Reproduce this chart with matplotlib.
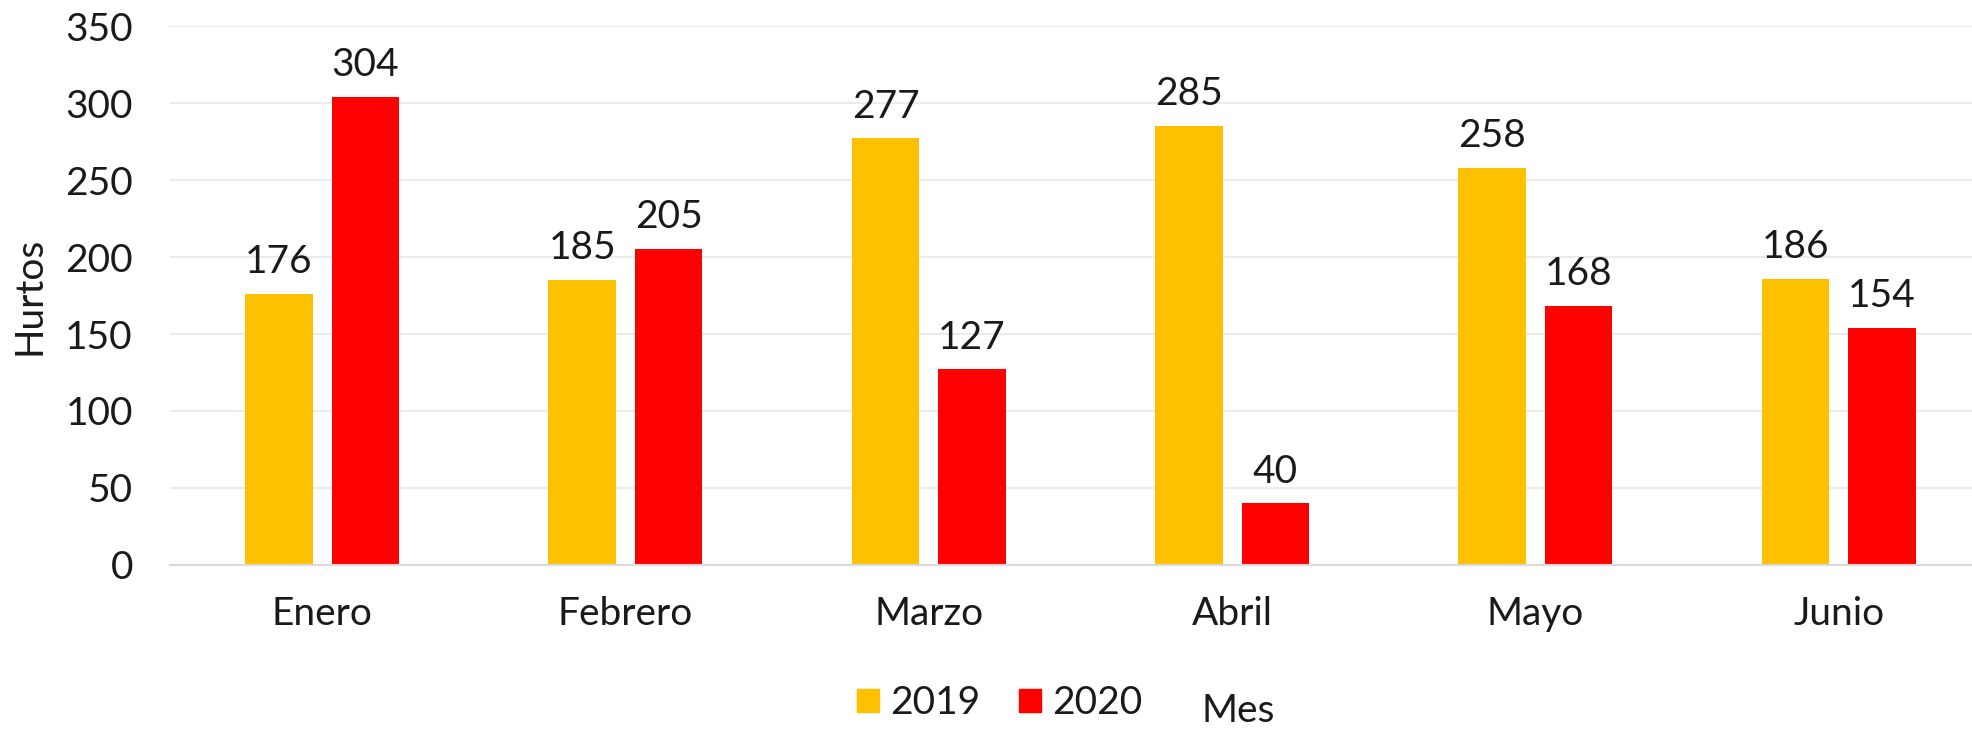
import numpy as np
import matplotlib.pyplot as plt
from matplotlib.patches import Patch

plt.rcParams['font.family'] = ['Lato', 'DejaVu Sans']

meses = ['Enero', 'Febrero', 'Marzo', 'Abril', 'Mayo', 'Junio']
hurtos_2019 = [176, 185, 277, 285, 258, 186]
hurtos_2020 = [304, 205, 127, 40, 168, 154]

c2019 = '#FFC000'
c2020 = '#FF0000'
txt = '#1a1a1a'
fs = 28

fig = plt.figure(figsize=(19.72, 7.31), dpi=100)
ax = fig.add_axes([0.0864, 0.2271, 0.9229, 0.7373])

x = np.arange(len(meses))
w = 0.2226
off = 0.1426
b1 = ax.bar(x - off, hurtos_2019, w, color=c2019, label='2019')
b2 = ax.bar(x + off, hurtos_2020, w, color=c2020, label='2020')
ax.bar_label(b1, padding=10, fontsize=fs, color=txt)
ax.bar_label(b2, padding=10, fontsize=fs, color=txt)

ax.set_xlim(-0.5, len(meses) - 0.5)
ax.set_ylim(0, 350)
ax.set_yticks(np.arange(0, 351, 50))
ax.set_xticks(x)
ax.set_xticklabels(meses)
ax.tick_params(axis='both', length=0, labelsize=fs, labelcolor=txt)
ax.tick_params(axis='x', pad=22)
ax.tick_params(axis='y', pad=27)
ax.grid(True, axis='y', color='#EBEBEB', linewidth=1.5)
ax.set_axisbelow(True)
for s in ['top', 'right', 'left']:
    ax.spines[s].set_visible(False)
ax.spines['bottom'].set_color('#D9D9D9')
ax.spines['bottom'].set_linewidth(1.5)

ax.set_ylabel('Hurtos', fontsize=fs, color=txt)
ax.yaxis.set_label_coords(-0.0676, 0.5)

handles = [Patch(color=c2019, label='2019'), Patch(color=c2020, label='2020')]
fig.legend(handles=handles, loc='center', bbox_to_anchor=(0.507, 0.038), ncol=2,
           frameon=False, fontsize=fs, handlelength=0.55, handleheight=0.55,
           handletextpad=0.3, columnspacing=1.0, labelcolor=txt,
           borderpad=0, borderaxespad=0)
fig.text(0.628, 0.012, 'Mes', fontsize=fs, color=txt, ha='center', va='baseline')

plt.savefig('out.png', dpi=100)
